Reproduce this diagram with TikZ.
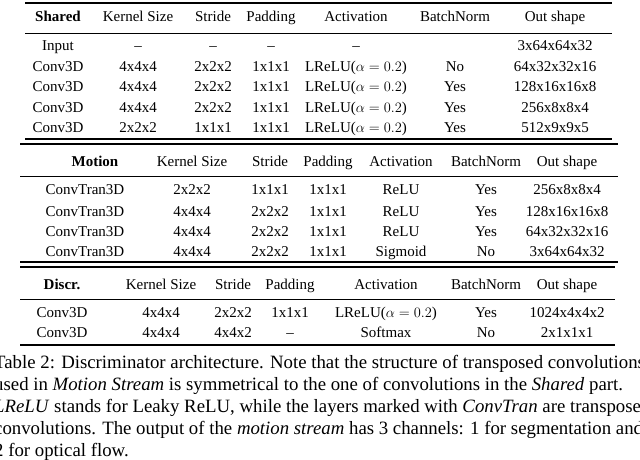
\documentclass[tikz,border=0pt]{standalone}
\usepackage{fontspec}
\setmainfont{Liberation Serif}
\begin{document}
\begin{tikzpicture}[x=1pt,y=-1pt,
  cell/.style={anchor=base,inner sep=0pt,font=\fontsize{15}{17}\selectfont},
  captxt/.style={anchor=base west,inner sep=0pt,font=\fontsize{18.8}{21}\selectfont},
  rl/.style={line width=1.1pt},
  tl/.style={line width=0.5pt}]
\useasboundingbox (0,0) rectangle (640,460);
\clip (0,0) rectangle (640,460);
% Table 1
\draw[rl] (25,3) -- (612,3);
\draw[tl] (25,33) -- (612,33);
\draw[rl] (25,139) -- (612,139);
\foreach \r/\y/\a/\b/\c/\d/\e/\f/\g in {
 h/22/\textbf{Shared}/Kernel Size/Stride/Padding/Activation/BatchNorm/Out shape,
 a/51/Input/--/--/--/--//3x64x64x32,
 b/71/Conv3D/4x4x4/2x2x2/1x1x1/LReLU($\alpha=0.2$)/No/64x32x32x16,
 c/92/Conv3D/4x4x4/2x2x2/1x1x1/LReLU($\alpha=0.2$)/Yes/128x16x16x8,
 d/112/Conv3D/4x4x4/2x2x2/1x1x1/LReLU($\alpha=0.2$)/Yes/256x8x8x4,
 e/132/Conv3D/2x2x2/1x1x1/1x1x1/LReLU($\alpha=0.2$)/Yes/512x9x9x5}{
 \node[cell] (s\r1) at (58,\y) {\a};
 \node[cell] (s\r2) at (138,\y) {\b};
 \node[cell] (s\r3) at (213,\y) {\c};
 \node[cell] (s\r4) at (271,\y) {\d};
 \node[cell] (s\r5) at (356,\y) {\e};
 \node[cell] (s\r6) at (455,\y) {\f};
 \node[cell] (s\r7) at (555,\y) {\g};
}
% Table 2
\draw[rl] (20,144) -- (618,144);
\draw[tl] (20,176) -- (618,176);
\draw[rl] (20,262) -- (618,262);
\node[cell] (mh1) at (95,166) {\textbf{Motion}};
\foreach \r/\y/\a/\b/\c/\d/\e/\f/\g in {
 h/166//Kernel Size/Stride/Padding/Activation/BatchNorm/Out shape,
 a/194/ConvTran3D/2x2x2/1x1x1/1x1x1/ReLU/Yes/256x8x8x4,
 b/216/ConvTran3D/4x4x4/2x2x2/1x1x1/ReLU/Yes/128x16x16x8,
 c/236/ConvTran3D/4x4x4/2x2x2/1x1x1/ReLU/Yes/64x32x32x16,
 d/256/ConvTran3D/4x4x4/2x2x2/1x1x1/Sigmoid/No/3x64x64x32}{
 \node[cell] (m\r1) at (85,\y) {\a};
 \node[cell] (m\r2) at (192,\y) {\b};
 \node[cell] (m\r3) at (270,\y) {\c};
 \node[cell] (m\r4) at (328,\y) {\d};
 \node[cell] (m\r5) at (401,\y) {\e};
 \node[cell] (m\r6) at (486,\y) {\f};
 \node[cell] (m\r7) at (567,\y) {\g};
}
% Table 3
\draw[rl] (20,267) -- (615,267);
\draw[tl] (20,299) -- (615,299);
\draw[rl] (20,345) -- (615,345);
\foreach \r/\y/\a/\b/\c/\d/\e/\f/\g in {
 h/289/\textbf{Discr.}/Kernel Size/Stride/Padding/Activation/BatchNorm/Out shape,
 a/317/Conv3D/4x4x4/2x2x2/1x1x1/LReLU($\alpha=0.2$)/Yes/1024x4x4x2,
 b/337/Conv3D/4x4x4/4x4x2/--/Softmax/No/2x1x1x1}{
 \node[cell] (d\r1) at (62,\y) {\a};
 \node[cell] (d\r2) at (161,\y) {\b};
 \node[cell] (d\r3) at (233,\y) {\c};
 \node[cell] (d\r4) at (290,\y) {\d};
 \node[cell] (d\r5) at (386,\y) {\e};
 \node[cell] (d\r6) at (486,\y) {\f};
 \node[cell] (d\r7) at (567,\y) {\g};
}
% Caption
\node[captxt] (c1) at (-6,368) {Table 2: Discriminator architecture. Note that the structure of transposed convolutions};
\node[captxt] (c2) at (-6,390) {used in \textit{Motion Stream} is symmetrical to the one of convolutions in the \textit{Shared} part.};
\node[captxt] (c3) at (-6,412) {\textit{LReLU} stands for Leaky ReLU, while the layers marked with \textit{ConvTran} are transposed};
\node[captxt] (c4) at (-6,434) {convolutions. The output of the \textit{motion stream} has 3 channels: 1 for segmentation and};
\node[captxt] (c5) at (-6,456) {2 for optical flow.};
\end{tikzpicture}
\end{document}
